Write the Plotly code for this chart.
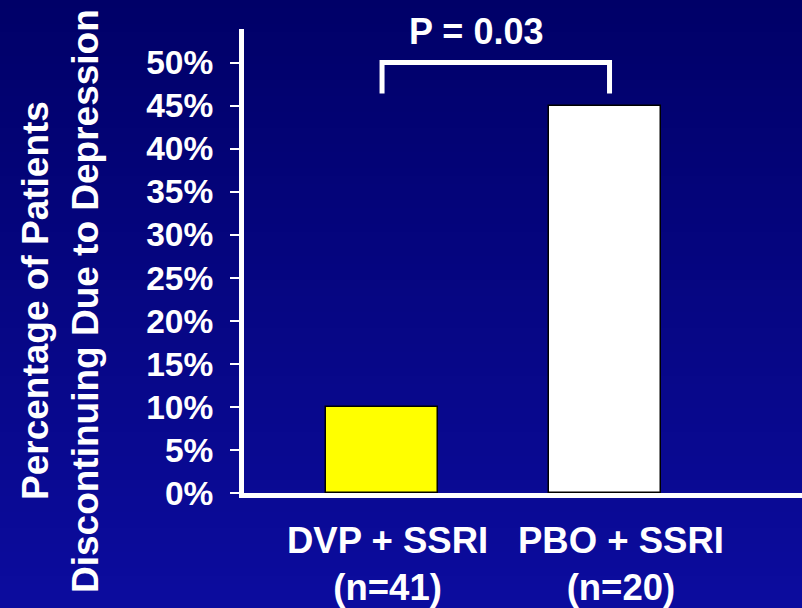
import plotly.graph_objects as go

# ---- data ----
groups = ["DVP + SSRI", "PBO + SSRI"]
group_n = ["(n=41)", "(n=20)"]
pct_discontinuing = [10, 45]
bar_colors = ["#FFFF00", "#FFFFFF"]
y_tick_vals = [0, 5, 10, 15, 20, 25, 30, 35, 40, 45, 50]
y_tick_text = ["0%", "5%", "10%", "15%", "20%", "25%", "30%", "35%", "40%", "45%", "50%"]
p_label = "P = 0.03"
bracket_top = 50
bracket_bottom = 46.4
y_title_lines = ["Percentage of Patients", "Discontinuing Due to Depression"]

FONT = "Liberation Sans, Arial, Helvetica, sans-serif"
W, H = 802, 608
ML, MR, MT, MB = 244, 0, 29, 115
pw, ph = W - ML - MR, H - MT - MB

x_pos = list(range(len(groups)))

fig = go.Figure()
fig.add_trace(go.Bar(
    x=x_pos, y=pct_discontinuing, width=0.5,
    marker=dict(color=bar_colors, line=dict(color="#000000", width=1.5)),
    hoverinfo="skip", showlegend=False,
))

# gradient background bands (style only)
shapes = []
nb = 76
top_c = (0, 0, 104)
bot_c = (12, 12, 158)
x0p, x1p = -ML / pw, 1 + MR / pw
y_top = 1 + MT / ph
y_bot = -MB / ph
for i in range(nb):
    t = i / (nb - 1)
    c = tuple(round(top_c[k] + (bot_c[k] - top_c[k]) * t) for k in range(3))
    ya = y_top - (y_top - y_bot) * i / nb
    yb = y_top - (y_top - y_bot) * (i + 1) / nb
    shapes.append(dict(type="rect", xref="paper", yref="paper", x0=x0p, x1=x1p,
                       y0=yb - 0.002, y1=ya, layer="below", line=dict(width=0),
                       fillcolor="rgb(%d,%d,%d)" % c))

# significance bracket
shapes.append(dict(type="path", xref="x", yref="y",
                   path="M 0,%s L 0,%s L 1.02,%s L 1.02,%s" % (bracket_bottom, bracket_top, bracket_top, bracket_bottom),
                   line=dict(color="white", width=5), layer="above"))

annotations = []
annotations.append(dict(text="<b>%s</b>" % p_label, xref="x", yref="paper", x=0.42, y=1,
                        yshift=-2, showarrow=False, xanchor="center", yanchor="middle",
                        font=dict(family=FONT, size=36, color="white")))

# x category labels
label_xshift = [5, 16]
for i, (g, n) in enumerate(zip(groups, group_n)):
    annotations.append(dict(text="<b>%s<br>%s</b>" % (g, n), xref="x", yref="paper",
                            x=x_pos[i], y=0, xshift=label_xshift[i], yshift=-25,
                            showarrow=False, xanchor="center", yanchor="top",
                            font=dict(family=FONT, size=36.5, color="white")))

# y title as two rotated lines
for j, (line, xc) in enumerate(zip(y_title_lines, [35, 85])):
    annotations.append(dict(text="<b>%s</b>" % line, xref="paper", yref="paper",
                            x=(xc - ML) / pw, y=(H - MB - 301) / ph, textangle=-90,
                            showarrow=False, xanchor="center", yanchor="middle",
                            font=dict(family=FONT, size=37, color="white")))

fig.update_layout(
    width=W, height=H,
    margin=dict(l=ML, r=MR, t=MT, b=MB, pad=0),
    paper_bgcolor="#000068", plot_bgcolor="rgba(0,0,0,0)",
    shapes=shapes, annotations=annotations,
    bargap=0,
    xaxis=dict(range=[-0.619, 1.883], showticklabels=False, ticks="",
               showgrid=False, zeroline=False, showline=True, linecolor="white",
               linewidth=5, fixedrange=True),
    yaxis=dict(range=[0, 53.9], tickvals=y_tick_vals, ticktext=y_tick_text,
               ticks="outside", ticklen=9, tickwidth=2, tickcolor="white",
               ticklabelstandoff=10,
               tickfont=dict(family=FONT, size=33.5, color="white", weight="bold"),
               showgrid=False, zeroline=False, showline=True, linecolor="white",
               linewidth=5, fixedrange=True),
)

fig.write_html("out.html")
